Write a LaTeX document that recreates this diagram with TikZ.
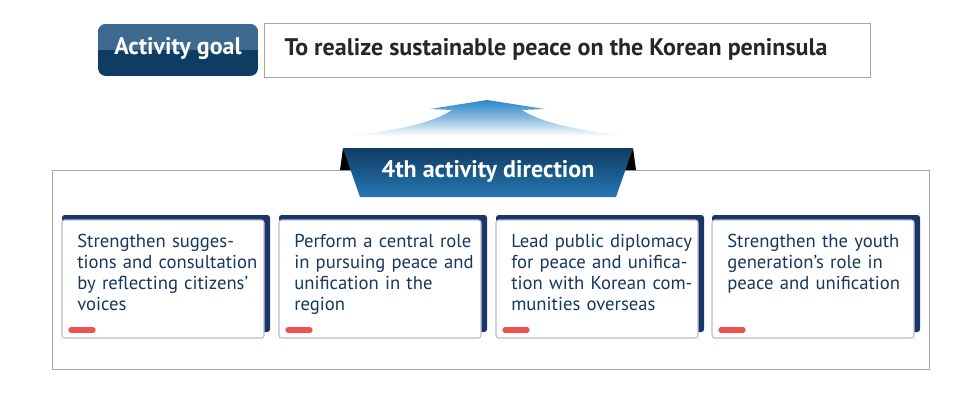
\documentclass[tikz,border=0pt]{standalone}
\usepackage{fontspec}
\setmainfont{PT Sans}
\usetikzlibrary{shadows}
\definecolor{navy}{HTML}{0E3C63}
\definecolor{navyl}{HTML}{3D6A8E}
\definecolor{cardback}{HTML}{1B3565}
\definecolor{cardtxt}{HTML}{17375E}
\definecolor{redbar}{HTML}{EF5350}
\definecolor{arrowb}{HTML}{2C86C8}
\tikzset{
  cardfront/.style={draw=gray!60!blue!40, line width=0.8pt, fill=white, rounded corners=2pt},
  cardtext/.style={anchor=north west, align=left, text width=195*0.75pt, font=\fontsize{14}{15.75}\selectfont, text=cardtxt, inner sep=0pt},
}
\begin{document}
\begin{tikzpicture}[x=0.75pt,y=-0.75pt]
\useasboundingbox[fill=white] (0,0) rectangle (980,400);
% goal label
\begin{scope}
\clip[rounded corners=6pt] (98,24) rectangle (258,76);
\fill[navy] (98,24) rectangle (258,76);
\fill[navyl] (98,24) rectangle (258,50);
\end{scope}
\node[text=white, font=\bfseries\fontsize{18}{20}\selectfont] (gl) at (178,49) {Activity goal};
\node[draw=gray!70, fill=white, drop shadow={shadow xshift=1pt,shadow yshift=-1pt,opacity=0.3}, minimum width=606*0.75pt, minimum height=54*0.75pt, inner sep=0pt] (gb) at (567,50) {};
\node[anchor=west, text=black!85, font=\bfseries\fontsize{18}{20}\selectfont] (gt) at (280,49) {To realize sustainable peace on the Korean peninsula};
% arrow
\shade[top color=arrowb, bottom color=white, middle color=arrowb!55] (487,100) -- (545,109) -- (522,110) .. controls (545,125) and (590,132) .. (630,136) -- (345,136) .. controls (385,132) and (430,125) .. (452,110) -- (430,109) -- cycle;
% frame
\node[draw=gray!70, fill=white, drop shadow={shadow xshift=1pt,shadow yshift=-1pt,opacity=0.3}, minimum width=877*0.75pt, minimum height=199*0.75pt, inner sep=0pt] (frame) at (490.5,269.5) {};
% banner
\fill[black] (343,148) -- (352,170) -- (340,170) -- cycle;
\fill[black] (633,148) -- (624,170) -- (636,170) -- cycle;
\shade[top color=navy, bottom color=arrowb!80!navy] (343,148) -- (633,148) -- (616,197) -- (360,197) -- cycle;
\node[text=white, font=\bfseries\fontsize{18}{20}\selectfont] (bn) at (488,171) {4th activity direction};
% cards
\foreach \x/\t [count=\i] in {62/{Strengthen sugges-\\tions and consultation\\by reflecting citizens’\\voices},
  279/{Perform a central role\\in pursuing peace and\\unification in the\\region},
  496/{Lead public diplomacy\\for peace and unifica-\\tion with Korean com-\\munities overseas},
  712/{Strengthen the youth\\generation’s role in\\peace and unification}}{
  \fill[cardback, rounded corners=2pt] (\x,215) rectangle (\x+208,332);
  \draw[cardfront] (\x,220) rectangle (\x+202,338);
  \node[cardtext] (c\i) at (\x+15,234) {\t};
  \draw[redbar, line width=4pt, line cap=round] (\x+9,330) -- (\x+31,330);
}
\end{tikzpicture}
\end{document}
